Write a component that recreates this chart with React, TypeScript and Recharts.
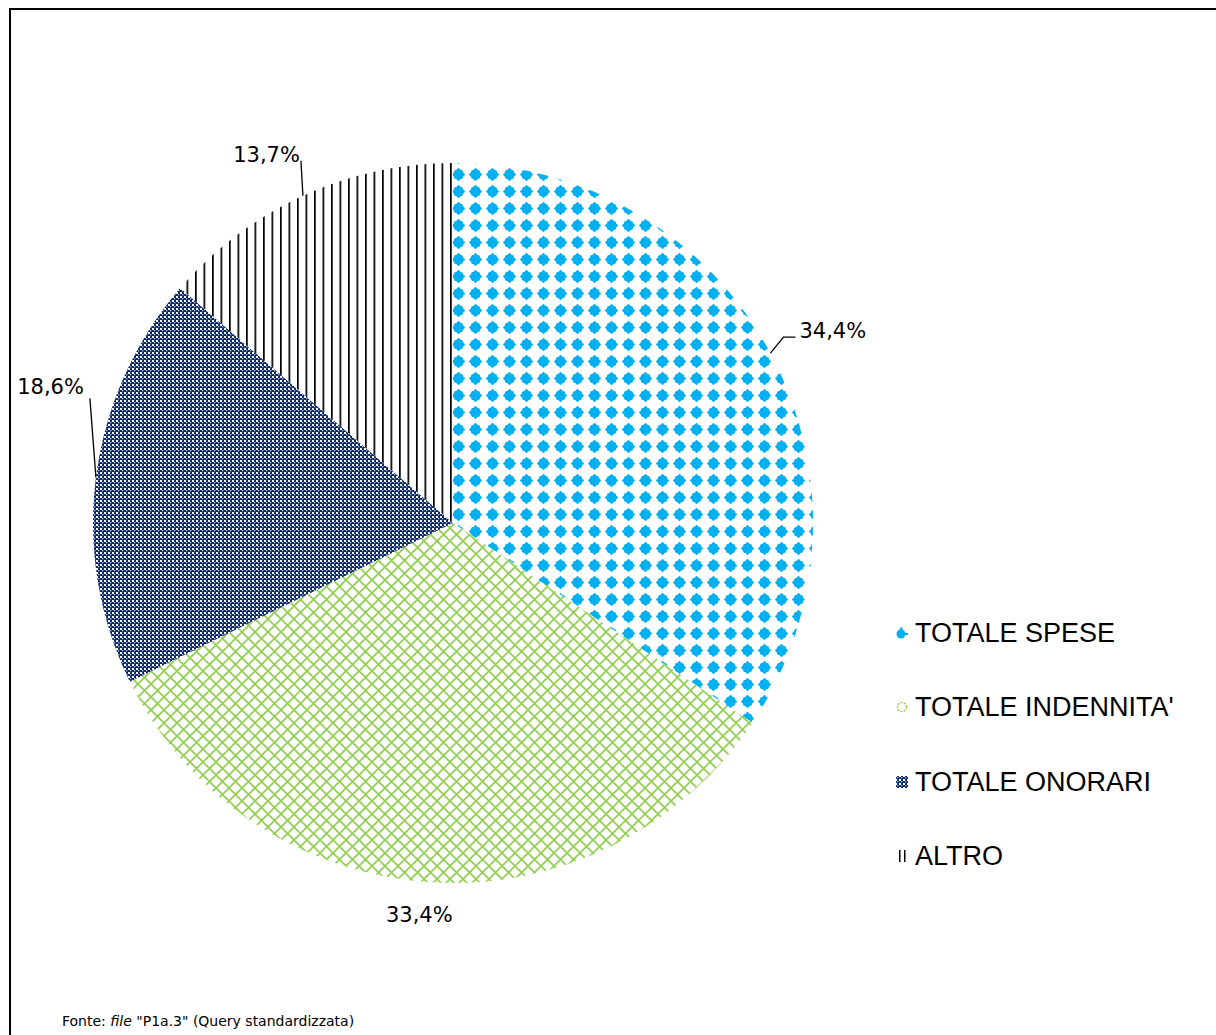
import { PieChart, Pie, Cell, Legend } from 'recharts'

// Composizione della spesa (quote %)
const categories = ['TOTALE SPESE', "TOTALE INDENNITA'", 'TOTALE ONORARI', 'ALTRO']
const shares = [34.4, 33.4, 18.6, 13.7]
const patternIds = ['patSpese', 'patIndennita', 'patOnorari', 'patAltro']

const data = categories.map((name, i) => ({ name, value: shares[i] }))

// placement of the data labels, relative to the slice mid point on the rim
const labelLayout = [
  { tx: 29, ty: -22, anchor: 'start', line: [[0, 0], [13, -16], [25, -16]] },
  { tx: -10, ty: 33, anchor: 'middle', line: null },
  { tx: -12, ty: -90, anchor: 'end', line: [[0, 0], [-6, -79]] },
  { tx: -3, ty: -41, anchor: 'end', line: [[0, 0], [-2, -35]] },
]

const RAD = Math.PI / 180
const labelFont = '"DejaVu Sans", Verdana, sans-serif'

const renderLabel = (props: any) => {
  const { cx, cy, midAngle, outerRadius, index, value } = props
  const px = cx + Math.cos(-midAngle * RAD) * outerRadius
  const py = cy + Math.sin(-midAngle * RAD) * outerRadius
  const l = labelLayout[index]
  return (
    <g key={`lbl-${index}`}>
      {l.line && (
        <polyline
          points={l.line.map(([x, y]) => `${px + x},${py + y}`).join(' ')}
          fill="none"
          stroke="#000"
          strokeWidth={1.3}
        />
      )}
      <text
        x={px + l.tx}
        y={py + l.ty}
        textAnchor={l.anchor}
        dominantBaseline="central"
        fontFamily={labelFont}
        fontSize={21}
        fill="#000"
      >
        {value.toFixed(1).replace('.', ',')}%
      </text>
    </g>
  )
}

const Patterns = () => (
  <svg width={0} height={0} style={{ position: 'absolute' }}>
    <defs>
      <pattern id="patSpese" width={17} height={17} y={5} patternUnits="userSpaceOnUse">
        <rect width={17} height={17} fill="#fff" />
        <rect x={4} y={4} width={9} height={9} rx={2} fill="#00B0F0" />
        <polygon points="8.5,1.8 15.2,8.5 8.5,15.2 1.8,8.5" fill="#00B0F0" />
      </pattern>
      <pattern id="patIndennita" width={13} height={13} patternUnits="userSpaceOnUse">
        <rect width={13} height={13} fill="#fff" />
        <path d="M0,0 L13,13 M13,0 L0,13" stroke="#92D050" strokeWidth={1.7} />
      </pattern>
      <pattern id="patOnorari" width={4} height={4} patternUnits="userSpaceOnUse">
        <rect width={4} height={4} fill="#0E2A6E" />
        <rect x={0} y={0} width={2} height={2} fill="#fff" />
        <rect x={2} y={2} width={1.3} height={1.3} fill="#b4c2e0" />
      </pattern>
      <pattern id="patAltro" width={8.5} height={8.5} patternUnits="userSpaceOnUse">
        <rect width={8.5} height={8.5} fill="#fff" />
        <rect x={0} y={0} width={1.7} height={8.5} fill="#000" />
      </pattern>
    </defs>
  </svg>
)

const LegendIcon = ({ index }: { index: number }) => (
  <svg width={14} height={14} style={{ marginRight: 6 }}>
    {index === 0 && (
      <g fill="#00B0F0">
        <circle cx={6} cy={8} r={4.5} />
        <rect x={5} y={1.5} width={2.5} height={3} />
        <rect x={10} y={7} width={3} height={2} />
      </g>
    )}
    {index === 1 && (
      <circle cx={7} cy={7} r={4.5} fill="none" stroke="#92D050" strokeWidth={1.4} strokeDasharray="2 1.2" />
    )}
    {index === 2 && <rect x={1} y={1} width={12} height={12} fill="url(#patOnorari)" />}
    {index === 3 && (
      <g fill="#000">
        <rect x={4} y={1} width={1.5} height={12} />
        <rect x={9} y={1} width={1.5} height={12} />
      </g>
    )}
  </svg>
)

const renderLegend = () => (
  <div style={{ fontFamily: '"Liberation Sans", Arial, sans-serif', fontSize: 27, color: '#000' }}>
    {categories.map((c, i) => (
      <div key={c} style={{ height: 74.3, lineHeight: '74.3px', display: 'flex', alignItems: 'center' }}>
        <LegendIcon index={i} />
        <span>{c}</span>
      </div>
    ))}
  </div>
)

export default function App() {
  return (
    <div
      style={{
        position: 'fixed',
        left: 0,
        top: 0,
        width: 1216,
        height: 1035,
        overflow: 'hidden',
        background: '#fff',
      }}
    >
      <Patterns />
      <div
        style={{
          position: 'absolute',
          left: 9,
          top: 8,
          width: 1260,
          height: 1100,
          border: '2px solid #000',
          boxSizing: 'border-box',
        }}
      />
      <div style={{ position: 'absolute', left: 8, top: 8 }}>
        <PieChart width={1208} height={1027} margin={{ top: 0, right: 0, bottom: 0, left: 0 }}>
          <Pie
            data={data}
            dataKey="value"
            nameKey="name"
            cx={445}
            cy={515}
            outerRadius={360}
            startAngle={90}
            endAngle={-270}
            stroke="none"
            label={renderLabel}
            labelLine={false}
            isAnimationActive={false}
          >
            {data.map((d, i) => (
              <Cell key={d.name} fill={`url(#${patternIds[i]})`} />
            ))}
          </Pie>
          <Legend
            content={renderLegend}
            wrapperStyle={{ position: 'absolute', left: 887, top: 588, width: 320 }}
          />
        </PieChart>
      </div>
      <div
        style={{
          position: 'absolute',
          left: 62,
          top: 1013,
          fontFamily: labelFont,
          fontSize: 14,
          lineHeight: '16px',
          color: '#000',
          whiteSpace: 'nowrap',
        }}
      >
        Fonte: <i>file</i> "P1a.3" (Query standardizzata)
      </div>
    </div>
  )
}
